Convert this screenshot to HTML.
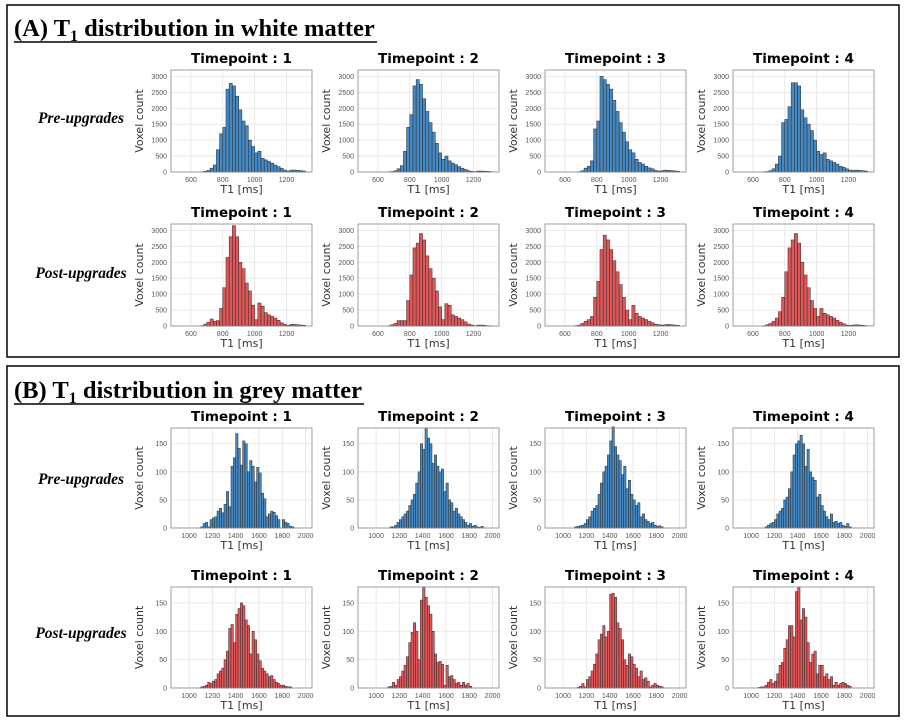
<!DOCTYPE html>
<html><head><meta charset="utf-8"><style>
html,body{margin:0;padding:0;background:#fff;}
svg{display:block;}
</style></head><body>
<svg id="fig" width="906" height="720" viewBox="0 0 906 720" xmlns="http://www.w3.org/2000/svg">
<rect x="7" y="5" width="892" height="352" fill="none" stroke="#000" stroke-width="1.5"/>
<rect x="7" y="366" width="892" height="350" fill="none" stroke="#000" stroke-width="1.5"/>
<text x="14" y="36" font-family="Liberation Serif, serif" font-weight="bold" font-size="24.5">(A) T<tspan font-size="16" dy="5">1</tspan><tspan dy="-5"> distribution in white matter</tspan></text>
<line x1="14" y1="42" x2="377" y2="42" stroke="#000" stroke-width="1.5"/>
<text x="14" y="398" font-family="Liberation Serif, serif" font-weight="bold" font-size="24.5">(B) T<tspan font-size="16" dy="5">1</tspan><tspan dy="-5"> distribution in grey matter</tspan></text>
<line x1="14" y1="404" x2="364" y2="404" stroke="#000" stroke-width="1.5"/>
<g font-family="Liberation Serif, serif" font-weight="bold" font-style="italic" font-size="15.5" text-anchor="middle">
<text x="81" y="123">Pre-upgrades</text>
<text x="81" y="278">Post-upgrades</text>
<text x="81" y="484">Pre-upgrades</text>
<text x="81" y="638">Post-upgrades</text>
</g>
</svg>
<script>
// White matter bins: 600..1300 ms step 20
const wmBinStart = 600;
const wmBinWidth = 20;
const wmXTicks = [600, 800, 1000, 1200];
const wmYTicks = [0, 500, 1000, 1500, 2000, 2500, 3000];
const wmPre1 = [0,0,0,5,20,50,120,220,700,1200,1400,2600,2780,2700,2380,1950,1600,1450,1000,800,600,650,430,380,330,280,220,170,120,60,30,60,60,50,45,30];
const wmPre2 = [0,0,0,5,15,40,100,200,650,1400,1800,2700,2900,2750,2300,1900,1550,1250,900,600,400,500,350,280,230,170,120,80,40,20,10,30,30,25,20,10];
const wmPre3 = [0,0,0,0,10,40,120,180,350,1350,1600,3000,2900,2750,2600,2250,1900,1550,1250,950,700,600,400,300,250,180,130,100,50,30,40,60,50,45,35,20];
const wmPre4 = [0,0,0,5,15,40,100,250,500,1550,1650,2050,2800,2800,2700,1950,1700,1500,1300,1000,650,550,600,400,350,300,250,180,150,100,60,50,60,50,40,30];
const wmPost1 = [0,0,0,10,60,120,220,150,170,550,1200,2150,2800,3150,2800,2000,1800,1350,1100,650,200,720,620,420,350,300,250,180,100,50,20,50,50,40,30,20];
const wmPost2 = [0,0,0,10,40,80,170,170,170,800,1600,2450,2600,2900,2700,2200,1800,1500,1100,600,200,700,650,350,300,250,200,130,60,30,10,30,30,20,10,5];
const wmPost3 = [0,0,0,10,30,80,150,200,300,900,1400,2400,2850,2700,2400,2050,1700,1300,900,500,200,650,400,300,250,200,150,100,60,40,30,40,50,40,30,20];
const wmPost4 = [0,0,0,10,40,80,150,250,450,900,1700,2450,2700,2900,2600,2000,1600,1200,800,550,300,550,400,350,300,250,180,120,70,30,20,30,40,30,20,10];
// Grey matter bins: 1000..1980 ms step 20
const gmBinStart = 1000;
const gmBinWidth = 20;
const gmXTicks = [1000, 1200, 1400, 1600, 1800, 2000];
const gmYTicks = [0, 50, 100, 150];
const gmPre1 = [0,0,0,0,0,2,8,10,2,15,18,20,30,35,27,42,65,38,110,125,168,142,112,155,150,100,120,110,82,108,98,62,52,20,25,30,28,22,15,0,15,10,8,3,2,0,0,0,0,0];
const gmPre2 = [0,0,0,0,0,0,2,2,5,10,15,20,25,30,40,50,60,80,100,150,140,178,160,150,115,130,110,100,105,65,80,50,45,30,35,25,20,15,10,5,8,3,5,2,1,3,0,0,0,0];
const gmPre3 = [0,0,0,0,0,2,3,4,5,8,15,20,30,35,40,60,80,100,110,130,155,180,145,130,120,95,110,70,85,60,50,40,45,20,25,15,12,8,10,5,3,4,2,0,0,0,0,0,0,0];
const gmPre4 = [0,0,0,0,0,0,2,5,8,10,15,25,30,35,50,55,70,100,130,150,155,165,150,110,140,100,90,85,55,60,40,30,20,15,25,10,12,8,10,5,3,8,2,0,0,0,0,0,0,0];
const gmPost1 = [0,0,0,0,0,2,3,5,10,8,12,15,25,30,35,50,65,105,112,80,130,140,150,145,120,110,60,100,85,60,48,35,30,25,20,22,15,10,8,5,5,3,2,2,0,0,0,0,0,0];
const gmPost2 = [0,0,0,0,0,2,3,10,5,15,20,30,40,55,80,98,115,100,50,155,178,160,145,130,100,60,45,47,42,5,40,20,22,15,8,10,5,10,5,8,3,0,0,0,0,0,0,0,0,0];
const gmPost3 = [0,0,0,0,0,0,1,3,8,2,15,20,30,42,60,85,95,110,90,100,165,167,160,115,105,85,50,40,60,55,42,35,20,30,15,18,12,2,5,8,5,3,2,0,0,0,0,0,0,0];
const gmPost4 = [0,0,0,1,2,2,5,10,15,8,12,25,40,45,70,85,110,110,90,170,178,120,140,125,80,45,60,65,25,40,40,20,25,15,20,5,10,5,8,10,8,5,3,0,0,0,0,0,0,0];

const NS = 'http://www.w3.org/2000/svg';
const svg = document.getElementById('fig');
const colX = [171, 358, 545, 733];
const PW = 141;

function mk(tag, attrs, parent) {
  const e = document.createElementNS(NS, tag);
  for (const k in attrs) e.setAttribute(k, attrs[k]);
  parent.appendChild(e);
  return e;
}

function panel(name, x0, y0, h, counts, binStart, binW, xmin, xmax, ymax, xTicks, yTicks, fill, tp) {
  const g = mk('g', {}, svg);
  
  
  const sx = v => x0 + (v - xmin) / (xmax - xmin) * PW;
  const sy = v => y0 + h - v / ymax * h;
  mk('rect', {x: x0, y: y0, width: PW, height: h, fill: '#fff', stroke: 'none'}, g);
  xTicks.forEach(t => {
    const l = mk('line', {x1: sx(t), x2: sx(t), y1: y0, y2: y0 + h, stroke: '#e3e3e3', 'stroke-width': 0.8}, g);
    
    
    const tx = mk('text', {x: sx(t), y: y0 + h + 10, 'font-size': 7, fill: '#555', 'text-anchor': 'middle', 'font-family': 'Liberation Sans, sans-serif'}, g);
    tx.textContent = t;
    
    
  });
  yTicks.forEach(t => {
    const l = mk('line', {x1: x0, x2: x0 + PW, y1: sy(t), y2: sy(t), stroke: '#e3e3e3', 'stroke-width': 0.8}, g);
    
    
    const tx = mk('text', {x: x0 - 4, y: sy(t) + 2.5, 'font-size': 7, fill: '#555', 'text-anchor': 'end', 'font-family': 'Liberation Sans, sans-serif'}, g);
    tx.textContent = t;
    
    
  });
  counts.forEach((c, i) => {
    if (c <= 0) return;
    const a = binStart + i * binW;
    const b = a + binW;
    const r = mk('rect', {x: sx(a), y: sy(c), width: sx(b) - sx(a), height: sy(0) - sy(c), fill: fill, stroke: '#2a2a2a', 'stroke-width': 0.5}, g);
    
    
  });
  const fr = mk('rect', {x: x0, y: y0, width: PW, height: h, fill: 'none', stroke: '#888', 'stroke-width': 0.8}, g);
  
  
  const ti = mk('text', {x: x0 + PW / 2, y: y0 - 7, 'font-size': 13.5, 'font-weight': 'bold', 'text-anchor': 'middle', 'font-family': 'DejaVu Sans, Liberation Sans, sans-serif'}, g);
  ti.textContent = 'Timepoint : ' + tp;
  
  
  const xl = mk('text', {x: x0 + PW / 2, y: y0 + h + 21, 'font-size': 11, fill: '#333', 'text-anchor': 'middle', 'font-family': 'DejaVu Sans, Liberation Sans, sans-serif'}, g);
  xl.textContent = 'T1 [ms]';
  
  
  const yx = x0 - 28, yy = y0 + h / 2;
  const yl = mk('text', {x: yx, y: yy, 'font-size': 11, fill: '#333', 'text-anchor': 'middle', 'font-family': 'DejaVu Sans, Liberation Sans, sans-serif', transform: 'rotate(-90 ' + yx + ' ' + yy + ')'}, g);
  yl.textContent = 'Voxel count';
  
  
}

const BLUE = '#4588c2', RED = '#e0575a';
const wmPre = [wmPre1, wmPre2, wmPre3, wmPre4];
const wmPost = [wmPost1, wmPost2, wmPost3, wmPost4];
const gmPre = [gmPre1, gmPre2, gmPre3, gmPre4];
const gmPost = [gmPost1, gmPost2, gmPost3, gmPost4];
for (let i = 0; i < 4; i++) {
  panel('wm-pre-tp' + (i + 1), colX[i], 70, 102, wmPre[i], wmBinStart, wmBinWidth, 475, 1360, 3200, wmXTicks, wmYTicks, BLUE, i + 1);
  panel('wm-post-tp' + (i + 1), colX[i], 224, 102, wmPost[i], wmBinStart, wmBinWidth, 475, 1360, 3200, wmXTicks, wmYTicks, RED, i + 1);
  panel('gm-pre-tp' + (i + 1), colX[i], 428, 100, gmPre[i], gmBinStart, gmBinWidth, 845, 2055, 178, gmXTicks, gmYTicks, BLUE, i + 1);
  panel('gm-post-tp' + (i + 1), colX[i], 587, 101, gmPost[i], gmBinStart, gmBinWidth, 845, 2055, 178, gmXTicks, gmYTicks, RED, i + 1);
}
</script>
</body></html>
